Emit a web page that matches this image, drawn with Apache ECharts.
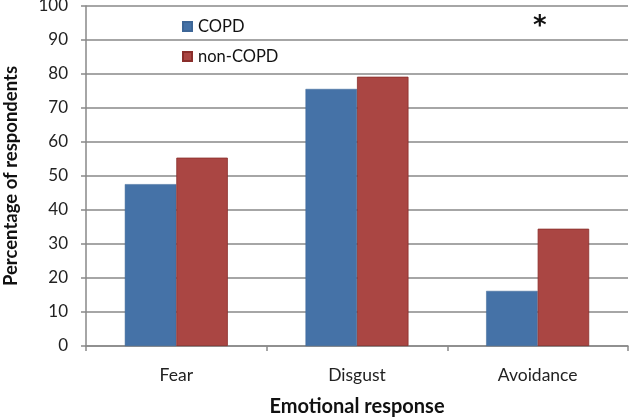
<!DOCTYPE html>
<html>
<head>
<meta charset="utf-8">
<script src="https://cdn.jsdelivr.net/npm/echarts@6/dist/echarts.min.js"></script>
<style>html,body{margin:0;padding:0;background:#fff;}#c{width:633px;height:419px;}</style>
</head>
<body>
<div id="c"></div>
<script>
var categories = ['Fear', 'Disgust', 'Avoidance'];
var copd = [47.6, 75.6, 16.2];
var nonCopd = [55.4, 79.2, 34.5];
var yTicks = {min: 0, max: 100, interval: 10};
var FONT = 'Lato, "Open Sans", sans-serif';

var chart = echarts.init(document.getElementById('c'), null, {renderer: 'canvas'});
chart.setOption({
  animation: false,
  backgroundColor: '#fff',
  textStyle: {fontFamily: FONT},
  grid: {left: 86, right: 5, top: 6, bottom: 73, containLabel: false, outerBoundsMode: 'none'},
  legend: {
    orient: 'vertical',
    left: 177, top: 13,
    itemWidth: 9, itemHeight: 9, itemGap: 13,
    icon: 'rect',
    textStyle: {fontSize: 16.5, color: '#111', fontFamily: FONT, padding: [0, 0, 0, 1]},
    data: ['COPD', 'non-COPD']
  },
  xAxis: {
    type: 'category',
    data: categories,
    name: 'Emotional response',
    nameLocation: 'middle',
    nameGap: 51,
    nameTextStyle: {fontSize: 20, fontWeight: 'bold', color: '#111', fontFamily: FONT},
    axisLine: {lineStyle: {color: '#898989', width: 1.5}},
    axisTick: {show: true, length: 5, lineStyle: {color: '#898989', width: 1.5}},
    axisLabel: {fontSize: 17.5, color: '#222', margin: 20, fontFamily: FONT}
  },
  yAxis: {
    type: 'value',
    min: yTicks.min, max: yTicks.max, interval: yTicks.interval,
    name: 'Percentage of respondents',
    nameLocation: 'middle',
    nameGap: 65,
    nameTextStyle: {fontSize: 18.5, fontWeight: 'bold', color: '#111', fontFamily: FONT},
    axisLine: {show: true, lineStyle: {color: '#898989', width: 1.5}},
    axisTick: {show: true, length: 5, lineStyle: {color: '#898989', width: 1.5}},
    axisLabel: {fontSize: 17, color: '#222', margin: 18, fontFamily: FONT},
    splitLine: {lineStyle: {color: '#898989', width: 1.5}}
  },
  series: [
    {name: 'COPD', type: 'bar', data: copd, barGap: '0%', barCategoryGap: '43%',
     itemStyle: {color: '#4572A7', borderColor: '#3d6697', borderWidth: 0.5}},
    {name: 'non-COPD', type: 'bar', data: nonCopd, barGap: '0%', barCategoryGap: '43%',
     itemStyle: {color: '#AA4643', borderColor: '#8a2e2b', borderWidth: 0.8}}
  ],
  graphic: [
    {type: 'text', left: 533, top: 14, style: {text: '*', fontSize: 26, fontWeight: 'bold', fill: '#111', fontFamily: '"DejaVu Sans", sans-serif'}}
  ]
});
</script>
</body>
</html>
